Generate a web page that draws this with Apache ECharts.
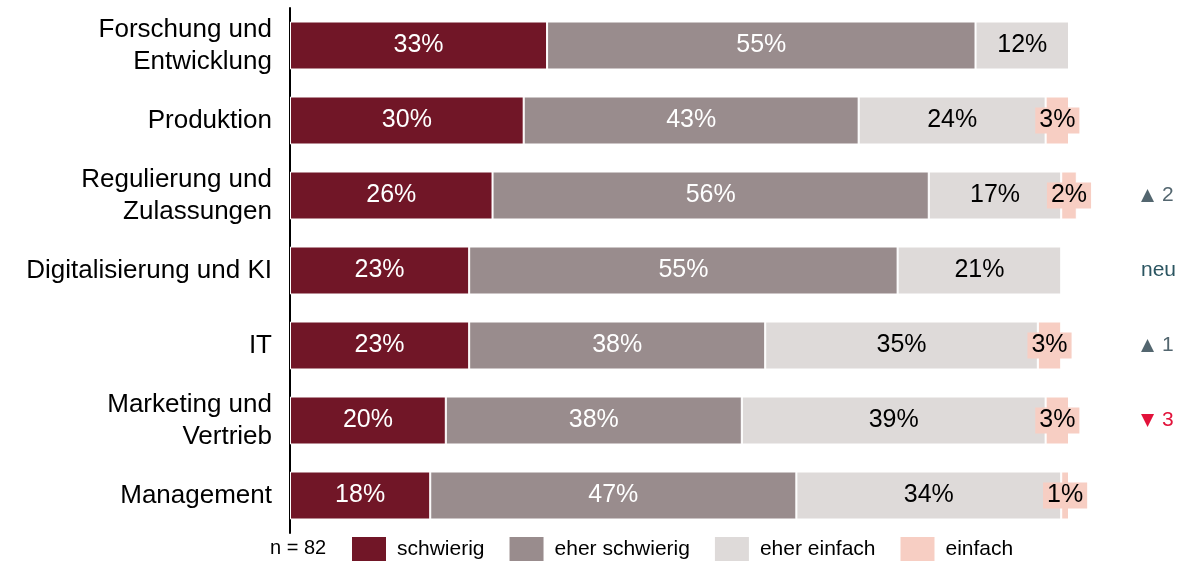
<!DOCTYPE html>
<html>
<head>
<meta charset="utf-8">
<script src="https://cdn.jsdelivr.net/npm/echarts@6/dist/echarts.min.js"></script>
<style>
  html, body { margin: 0; padding: 0; background: #ffffff; }
  #chart { width: 1182px; height: 562px; }
</style>
</head>
<body>
<div id="chart"></div>
<script>
// Bereiche, von oben nach unten
const categories = [
  'Forschung und\nEntwicklung',
  'Produktion',
  'Regulierung und\nZulassungen',
  'Digitalisierung und KI',
  'IT',
  'Marketing und\nVertrieb',
  'Management'
];
// Anteile in Prozent je Antwortkategorie
const schwierig     = [33, 30, 26, 23, 23, 20, 18];
const eherSchwierig = [55, 43, 56, 55, 38, 38, 47];
const eherEinfach   = [12, 24, 17, 21, 35, 39, 34];
const einfach       = [null, 3, 2, null, 3, 3, 1];
// Veränderung der Rangposition gegenüber Vorjahr
const trend = ['', '', 'up:2', 'neu', 'up:1', 'down:3', ''];
const sampleNote = 'n = 82';

const font = 'Liberation Sans, Arial, sans-serif';

function pct(p) {
  return p.value == null ? '' : p.value + '%';
}

function segment(name, data, color, textColor, extraLabel) {
  return {
    name: name,
    type: 'bar',
    stack: 'total',
    data: data,
    barWidth: 48,
    clip: false,
    itemStyle: { color: color, borderColor: '#ffffff', borderWidth: 1 },
    label: Object.assign({
      show: true,
      position: 'inside',
      formatter: pct,
      color: textColor,
      fontSize: 25,
      fontFamily: font
    }, extraLabel || {}),
    emphasis: { disabled: true }
  };
}

const chart = echarts.init(document.getElementById('chart'), null, { renderer: 'canvas' });

chart.setOption({
  animation: false,
  backgroundColor: '#ffffff',
  textStyle: { fontFamily: font },
  title: {
    text: sampleNote,
    left: 270,
    top: 538,
    padding: 0,
    textStyle: { fontSize: 20, fontWeight: 'normal', color: '#000000', fontFamily: font }
  },
  legend: {
    left: 350,
    top: 535,
    padding: 0,
    itemWidth: 36,
    itemHeight: 26,
    itemGap: 23,
    icon: 'rect',
    textStyle: { fontSize: 21, color: '#000000', fontFamily: font, padding: [0, 0, 0, 5] },
    data: ['schwierig', 'eher schwierig', 'eher einfach', 'einfach']
  },
  grid: { left: 290, top: 8, width: 779, height: 525, containLabel: false },
  xAxis: {
    type: 'value',
    min: 0,
    max: 100,
    show: false
  },
  yAxis: [
    {
      type: 'category',
      data: categories,
      inverse: true,
      axisLine: { show: true, lineStyle: { color: '#000000', width: 2 } },
      axisTick: { show: false },
      axisLabel: {
        color: '#000000',
        fontSize: 26,
        fontFamily: font,
        margin: 18,
        align: 'right',
        lineHeight: 32
      }
    },
    {
      type: 'category',
      data: trend,
      inverse: true,
      position: 'right',
      offset: 0,
      axisLine: { show: false },
      axisTick: { show: false },
      axisLabel: {
        margin: 72,
        align: 'left',
        formatter: function (v) {
          if (v === '') return '';
          if (v === 'neu') return '{neu|neu}';
          const parts = v.split(':');
          if (parts[0] === 'up') return '{upIcon|▲}{up|' + parts[1] + '}';
          return '{downIcon|▼}{down|' + parts[1] + '}';
        },
        rich: {
          neu: { color: '#2b5561', fontSize: 21, fontFamily: font },
          upIcon: { color: '#53666f', fontSize: 17, fontFamily: 'DejaVu Sans', padding: [0, 8, 0, 0] },
          up: { color: '#53666f', fontSize: 21, fontFamily: font },
          downIcon: { color: '#e2123a', fontSize: 17, fontFamily: 'DejaVu Sans', padding: [0, 8, 0, 0] },
          down: { color: '#e2123a', fontSize: 21, fontFamily: font }
        }
      }
    }
  ],
  series: [
    segment('schwierig', schwierig, '#711627', '#ffffff'),
    segment('eher schwierig', eherSchwierig, '#998c8d', '#ffffff'),
    segment('eher einfach', eherEinfach, '#dedad9', '#000000'),
    segment('einfach', einfach, '#f7cec3', '#000000', {
      backgroundColor: '#f7cec3',
      padding: [1, 4, 0, 4]
    })
  ]
});
</script>
</body>
</html>
